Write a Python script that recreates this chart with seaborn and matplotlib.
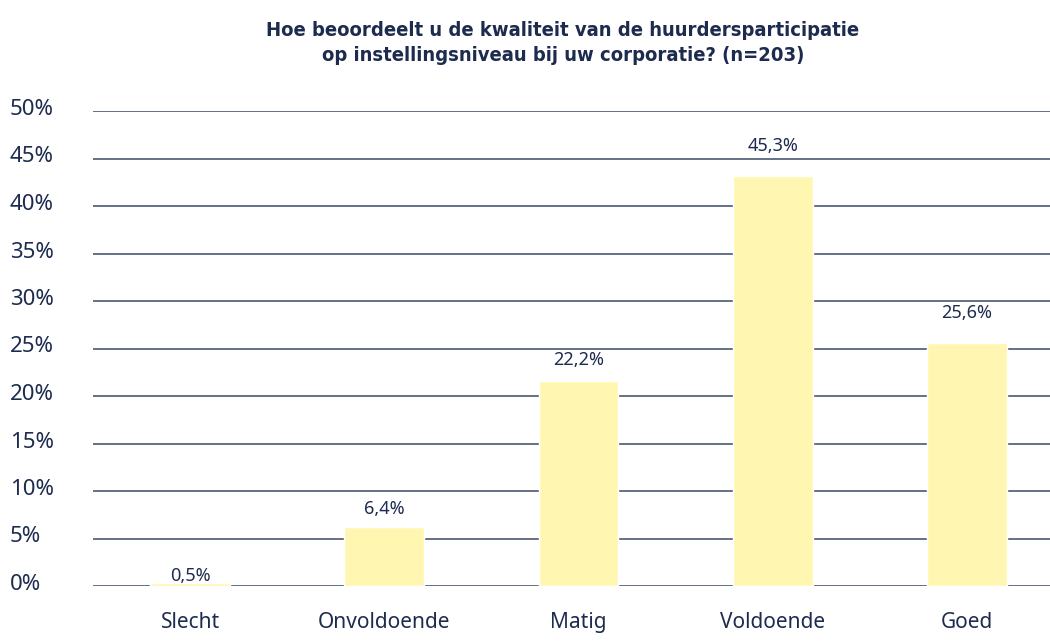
import matplotlib
matplotlib.use("Agg")
import matplotlib.pyplot as plt
import matplotlib.transforms as mtransforms
import seaborn as sns
import pandas as pd

# data
categories = ["Slecht", "Onvoldoende", "Matig", "Voldoende", "Goed"]
bar_heights = [0.3, 6.2, 21.6, 43.2, 25.6]   # drawn heights
labels = ["0,5%", "6,4%", "22,2%", "45,3%", "25,6%"]  # printed values
label_gap_px = [7, 18, 21, 30, 30]
yticks = [0, 5, 10, 15, 20, 25, 30, 35, 40, 45, 50]

navy = "#1d2b4f"
bar_color = "#fff7b1"

df = pd.DataFrame({"cat": categories, "val": bar_heights})

sns.set_style("white")
plt.rcParams["font.family"] = ["Noto Sans", "DejaVu Sans"]

fig = plt.figure(figsize=(10.5, 6.44), dpi=100)
ax = fig.add_axes([93 / 1050, 1 - 586 / 644, 971 / 1050, 475 / 644])

for y in yticks:
    ax.axhline(y, color="#3b4866", linewidth=1.1, zorder=0)

sns.barplot(data=df, x="cat", y="val", color=bar_color, width=0.41,
            saturation=1, ax=ax, zorder=2)

ax.set_xlim(-0.5, 4.5)
ax.set_ylim(0, 50)
ax.set_xlabel("")
ax.set_ylabel("")
ax.set_yticks(yticks)
ax.set_yticklabels([f"{t}%" for t in yticks])
ax.tick_params(axis="y", length=0, pad=60, labelsize=16, labelcolor=navy)
shift = mtransforms.ScaledTranslation(0, 4 / 100, fig.dpi_scale_trans)
for t in ax.get_yticklabels():
    t.set_horizontalalignment("left")
    t.set_verticalalignment("center_baseline")
    t.set_transform(t.get_transform() + shift)
ax.tick_params(axis="x", length=0, pad=19, labelsize=15, labelcolor=navy)
sns.despine(ax=ax, left=True, bottom=True, top=True, right=True)

for i, (h, lab, gap) in enumerate(zip(bar_heights, labels, label_gap_px)):
    ax.annotate(lab, (i, h), xytext=(0, gap * 0.72), textcoords="offset points",
                ha="center", va="center", fontsize=13, color=navy)

fig.text(563 / 1050, 1 - 43 / 644,
         "Hoe beoordeelt u de kwaliteit van de huurdersparticipatie\n"
         "op instellingsniveau bij uw corporatie? (n=203)",
         ha="center", va="center", fontsize=14.5, fontweight="bold",
         color=navy, linespacing=1.45, fontstretch="condensed",
         family=["DejaVu Sans"])

fig.savefig("out.png", dpi=100)
